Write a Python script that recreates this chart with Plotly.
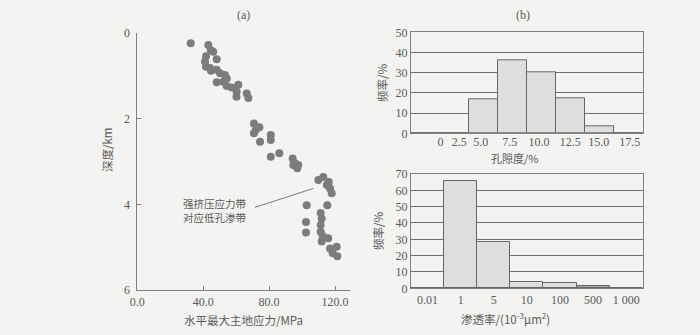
import plotly.graph_objects as go

# (a) max horizontal stress (MPa) vs depth (km)
stress = [32.4, 43.1, 44.6, 46.1, 48.2, 41.7, 41.1, 41.7, 44.1, 48.2, 50.2, 44.7, 53.2,
          54.3, 48.2, 52.2, 54.3, 57.3, 61.3, 60.3, 60.2, 66.4, 67.4,
          70.8, 74.1, 72.0, 70.8, 74.5, 81.0, 81.0, 81.0, 86.2, 94.3, 95.7, 97.7, 94.7, 97.1,
          109.9, 112.9, 115.0, 117.0, 118.0, 116.2, 102.8, 115.3, 111.3, 111.9, 102.4, 111.3,
          111.3, 102.4, 112.5, 115.9, 111.9, 117.0, 121.0, 118.6, 121.4]
depth = [0.24, 0.28, 0.40, 0.44, 0.61, 0.54, 0.67, 0.79, 0.82, 0.86, 0.94, 0.88, 0.98,
         1.06, 1.15, 1.14, 1.24, 1.27, 1.21, 1.37, 1.49, 1.41, 1.52,
         2.11, 2.20, 2.26, 2.34, 2.54, 2.38, 2.50, 2.89, 2.81, 2.93, 3.04, 3.08, 3.08, 3.16,
         3.43, 3.36, 3.55, 3.63, 3.74, 3.48, 4.02, 4.02, 4.20, 4.33, 4.41, 4.48,
         4.64, 4.66, 4.74, 4.79, 4.87, 5.03, 4.99, 5.14, 5.21]

# (b) porosity histogram
poro_labels = ["0", "2.5", "5.0", "7.5", "10.0", "12.5", "15.0", "17.5"]
poro_freq = [0, 0, 17, 36, 30, 17.3, 3.5, 0]

# (b) permeability histogram
perm_labels = ["0.01", "1", "5", "10", "100", "500", "1 000"]
perm_freq = [0, 65.5, 28.2, 3.6, 3.0, 1.6, 0]

# page has an 8px body margin, so the figure is drawn 8px in and made smaller
OFF = 8
W, H = 700 - OFF, 335 - OFF
def xd(a, b):
    return [(a - OFF) / W, (b - OFF) / W]
def yd(top, bot):
    return [1 - (bot - OFF) / H, 1 - (top - OFF) / H]

BG = "#f3f3f1"
AX = "#808080"
TXT = "#5a5a5a"
NUM = dict(family="Liberation Serif, serif", size=12, color=TXT)
CJK = dict(family="Noto Sans CJK SC, sans-serif", size=11, color=TXT)

fig = go.Figure()

fig.add_trace(go.Scatter(x=stress, y=depth, mode="markers", xaxis="x", yaxis="y",
                         marker=dict(size=8, color="#7c7c7c"), showlegend=False))

fig.add_trace(go.Bar(x=list(range(len(poro_labels))), y=poro_freq, width=1,
                     xaxis="x2", yaxis="y2", showlegend=False,
                     marker=dict(color="#dedede", line=dict(color="#666666", width=1))))

perm_colors = ["#dedede"] * len(perm_labels)
perm_colors[5] = "#a9a9a9"
fig.add_trace(go.Bar(x=perm_labels, y=perm_freq, width=1,
                     xaxis="x3", yaxis="y3", showlegend=False,
                     marker=dict(color=perm_colors, line=dict(color="#666666", width=1))))

common = dict(automargin=False, zeroline=False, showline=True, linecolor=AX, tickfont=NUM)
fig.update_layout(
    width=W, height=H, margin=dict(l=0, r=0, t=0, b=0, autoexpand=False),
    paper_bgcolor=BG, plot_bgcolor=BG, bargap=0,
    xaxis=dict(common, domain=xd(137.3, 350), range=[0, 129.1], anchor="y",
               tickvals=[0, 40, 80, 120], ticktext=["0.0", "40.0", "80.0", "120.0"],
               ticks="inside", ticklen=4, tickcolor=AX, showgrid=False,
               ticklabelstandoff=1),
    yaxis=dict(common, domain=yd(33, 290), range=[6, 0], anchor="x",
               tickvals=[0, 2, 4, 6], ticks="inside", ticklen=4, tickcolor=AX, showgrid=False,
               ticklabelstandoff=4),
    xaxis2=dict(common, domain=xd(411, 642.7), range=[-0.5, 7.5], anchor="y2",
                tickvals=[0.52, 1.17, 1.91, 2.91, 3.92, 5.0, 5.98, 7.05], ticktext=poro_labels,
                mirror=True, showgrid=False, ticks="", ticklabelstandoff=-3),
    yaxis2=dict(common, domain=yd(32.3, 133.3), range=[0, 50], anchor="x2", dtick=10,
                mirror=True, showgrid=True, gridcolor="#6e6e6e", gridwidth=1, ticks=""),
    xaxis3=dict(common, domain=xd(411, 642.7), anchor="y3", type="category",
                mirror=True, showgrid=False, ticks=""),
    yaxis3=dict(common, domain=yd(174, 288.3), range=[0, 70], anchor="x3", dtick=10,
                mirror=True, showgrid=True, gridcolor="#6e6e6e", gridwidth=1, ticks=""),
)

# callout line in panel (a)
fig.add_shape(type="line", xref="x", yref="y", x0=71.4, y0=4.07, x1=106.8, y1=3.63,
              line=dict(color="#777777", width=1))

def txt(x, y, s, font, angle=0, xanchor="center"):
    fig.add_annotation(x=(x - OFF) / W, y=1 - (y - OFF) / H, xref="paper", yref="paper",
                       text=s, showarrow=False, font=font, textangle=angle,
                       xanchor=xanchor, yanchor="middle")

txt(243, 15, "(a)", dict(NUM, size=12))
txt(523, 15, "(b)", dict(NUM, size=12))
txt(214.5, 210, "强挤压应力带<br>对应低孔渗带", dict(CJK, size=10.5))
txt(107, 150, "深度/km", dict(CJK, size=11.5), angle=-90)
txt(243, 320, "水平最大主地应力/MPa", dict(CJK, size=11.5))
txt(382, 83, "频率/%", dict(CJK, size=11.5), angle=-90)
txt(378, 231, "频率/%", dict(CJK, size=11.5), angle=-90)
txt(515, 158, "孔隙度/%", dict(CJK, size=11))
txt(505, 318, "渗透率/(10<sup>-3</sup>μm<sup>2</sup>)", dict(CJK, size=11.5))

fig.write_html("out.html", post_script="document.body.style.background='" + BG + "';")
